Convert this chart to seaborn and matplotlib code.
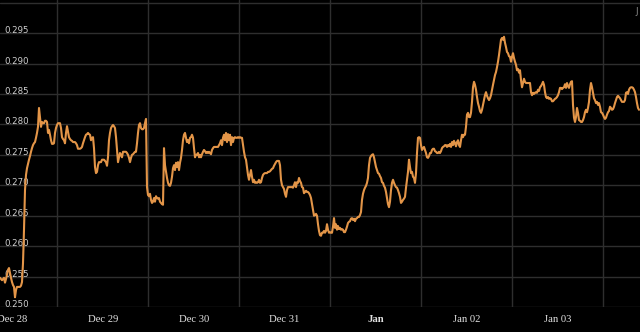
import matplotlib
matplotlib.use("Agg")
import matplotlib.pyplot as plt
import numpy as np
import pandas as pd
import seaborn as sns

# ---------------- data ----------------
start_time = "2023-12-28 08:50"
end_time = "2024-01-04 09:35"

values = [
    0.2548, 0.2546, 0.2544, 0.2546, 0.2548, 0.2540, 0.2546, 0.2553, 0.2561, 0.2564,
    0.2556, 0.2548, 0.2541, 0.2536, 0.2533, 0.2516, 0.2528, 0.2533, 0.2533, 0.2533,
    0.2533, 0.2535, 0.2541, 0.2572, 0.2627, 0.2692, 0.2717, 0.2728, 0.2735, 0.2742,
    0.2748, 0.2755, 0.2761, 0.2766, 0.2769, 0.2771, 0.2778, 0.2786, 0.2796, 0.2827,
    0.2812, 0.2796, 0.2804, 0.2802, 0.2802, 0.2806, 0.2806, 0.2804, 0.2786, 0.2791,
    0.2783, 0.2774, 0.2768, 0.2768, 0.2769, 0.2786, 0.2794, 0.2799, 0.2802, 0.2802,
    0.2802, 0.2794, 0.2779, 0.2776, 0.2774, 0.2769, 0.2786, 0.2797, 0.2788, 0.2779,
    0.2776, 0.2774, 0.2773, 0.2771, 0.2771, 0.2771, 0.2769, 0.2766, 0.2760, 0.2760,
    0.2760, 0.2761, 0.2763, 0.2769, 0.2774, 0.2779, 0.2783, 0.2784, 0.2786, 0.2784,
    0.2783, 0.2774, 0.2778, 0.2779, 0.2761, 0.2730, 0.2720, 0.2722, 0.2733, 0.2738,
    0.2738, 0.2738, 0.2742, 0.2742, 0.2742, 0.2740, 0.2738, 0.2732, 0.2746, 0.2774,
    0.2786, 0.2794, 0.2797, 0.2799, 0.2797, 0.2794, 0.2779, 0.2758, 0.2738, 0.2746,
    0.2753, 0.2750, 0.2746, 0.2755, 0.2755, 0.2755, 0.2755, 0.2753, 0.2750, 0.2745,
    # Dec 29 afternoon
    0.2738, 0.2745, 0.2750, 0.2751, 0.2753, 0.2755, 0.2755, 0.2769, 0.2786, 0.2799,
    0.2802, 0.2794, 0.2792, 0.2792, 0.2794, 0.2802, 0.2809, 0.2697, 0.2684, 0.2682,
    0.2686, 0.2676, 0.2671, 0.2673, 0.2679, 0.2673, 0.2682, 0.2679, 0.2678, 0.2679,
    0.2673, 0.2671, 0.2669, 0.2668, 0.2761, 0.2733, 0.2722, 0.2712, 0.2704, 0.2700,
    0.2699, 0.2704, 0.2714, 0.2728, 0.2733, 0.2725, 0.2737, 0.2730, 0.2738, 0.2725,
    0.2737, 0.2745, 0.2758, 0.2774, 0.2783, 0.2786, 0.2778, 0.2771, 0.2774, 0.2769,
    0.2778, 0.2779, 0.2783, 0.2778, 0.2761, 0.2746, 0.2750, 0.2750, 0.2753, 0.2746,
    0.2750, 0.2746, 0.2751, 0.2755, 0.2758, 0.2756, 0.2753, 0.2755, 0.2753, 0.2755,
    0.2753, 0.2751, 0.2758, 0.2761, 0.2763, 0.2763, 0.2763, 0.2763, 0.2763, 0.2766,
    0.2769, 0.2774, 0.2766, 0.2778, 0.2783, 0.2774, 0.2786, 0.2771, 0.2784, 0.2774,
    0.2783, 0.2766, 0.2779, 0.2771, 0.2778, 0.2779, 0.2778, 0.2778, 0.2779, 0.2778,
    0.2779, 0.2778, 0.2778, 0.2766, 0.2755, 0.2746, 0.2742, 0.2730, 0.2717, 0.2709,
    0.2717, 0.2725, 0.2714, 0.2705, 0.2709, 0.2704, 0.2705, 0.2704, 0.2705, 0.2709,
    # Dec 31
    0.2704, 0.2705, 0.2712, 0.2717, 0.2719, 0.2720, 0.2720, 0.2720, 0.2722, 0.2722,
    0.2723, 0.2725, 0.2727, 0.2728, 0.2732, 0.2735, 0.2738, 0.2740, 0.2740, 0.2740,
    0.2733, 0.2709, 0.2700, 0.2697, 0.2694, 0.2686, 0.2681, 0.2692, 0.2697, 0.2697,
    0.2697, 0.2697, 0.2697, 0.2696, 0.2700, 0.2705, 0.2697, 0.2705, 0.2704, 0.2712,
    0.2707, 0.2704, 0.2697, 0.2696, 0.2687, 0.2689, 0.2691, 0.2689, 0.2689, 0.2687,
    0.2684, 0.2679, 0.2669, 0.2659, 0.2650, 0.2651, 0.2653, 0.2650, 0.2636, 0.2625,
    0.2618, 0.2617, 0.2622, 0.2622, 0.2625, 0.2622, 0.2625, 0.2636, 0.2627, 0.2622,
    0.2623, 0.2622, 0.2622, 0.2632, 0.2646, 0.2630, 0.2636, 0.2627, 0.2633, 0.2628,
    0.2630, 0.2627, 0.2628, 0.2627, 0.2623, 0.2623, 0.2627, 0.2632, 0.2638, 0.2640,
    0.2641, 0.2645, 0.2646, 0.2643, 0.2645, 0.2641, 0.2645, 0.2646, 0.2648, 0.2648,
    0.2651, 0.2656, 0.2676, 0.2686, 0.2692, 0.2696, 0.2699, 0.2704, 0.2712, 0.2733,
    0.2745, 0.2748, 0.2750, 0.2751, 0.2746, 0.2738, 0.2730, 0.2725, 0.2720, 0.2719,
    0.2715, 0.2712, 0.2705, 0.2704, 0.2699, 0.2696, 0.2689, 0.2679, 0.2669, 0.2664,
    # Jan 01 afternoon
    0.2673, 0.2692, 0.2704, 0.2709, 0.2704, 0.2700, 0.2697, 0.2696, 0.2692, 0.2687,
    0.2681, 0.2671, 0.2673, 0.2676, 0.2678, 0.2681, 0.2696, 0.2709, 0.2722, 0.2742,
    0.2730, 0.2720, 0.2722, 0.2714, 0.2712, 0.2704, 0.2720, 0.2753, 0.2778, 0.2779,
    0.2778, 0.2766, 0.2758, 0.2761, 0.2763, 0.2758, 0.2753, 0.2746, 0.2745, 0.2748,
    0.2753, 0.2753, 0.2758, 0.2760, 0.2760, 0.2756, 0.2755, 0.2753, 0.2753, 0.2755,
    0.2753, 0.2756, 0.2761, 0.2763, 0.2764, 0.2766, 0.2766, 0.2763, 0.2766, 0.2764,
    0.2768, 0.2763, 0.2771, 0.2766, 0.2773, 0.2769, 0.2764, 0.2771, 0.2774, 0.2766,
    0.2763, 0.2774, 0.2783, 0.2779, 0.2783, 0.2783, 0.2796, 0.2816, 0.2819, 0.2812,
    0.2812, 0.2819, 0.2837, 0.2861, 0.2870, 0.2865, 0.2857, 0.2845, 0.2835, 0.2829,
    0.2822, 0.2819, 0.2824, 0.2832, 0.2840, 0.2848, 0.2853, 0.2847, 0.2843, 0.2840,
    0.2843, 0.2848, 0.2857, 0.2865, 0.2873, 0.2881, 0.2886, 0.2894, 0.2903, 0.2914,
    0.2927, 0.2939, 0.2942, 0.2939, 0.2944, 0.2934, 0.2927, 0.2919, 0.2917, 0.2912,
    0.2911, 0.2903, 0.2911, 0.2917, 0.2909, 0.2903, 0.2898, 0.2889, 0.2891, 0.2885,
    # Jan 03
    0.2889, 0.2873, 0.2861, 0.2868, 0.2875, 0.2870, 0.2868, 0.2868, 0.2868, 0.2868,
    0.2868, 0.2853, 0.2848, 0.2852, 0.2850, 0.2852, 0.2853, 0.2852, 0.2857, 0.2855,
    0.2861, 0.2863, 0.2866, 0.2870, 0.2865, 0.2853, 0.2845, 0.2843, 0.2845, 0.2842,
    0.2843, 0.2842, 0.2838, 0.2838, 0.2840, 0.2842, 0.2843, 0.2845, 0.2848, 0.2853,
    0.2860, 0.2860, 0.2858, 0.2860, 0.2861, 0.2866, 0.2860, 0.2868, 0.2863, 0.2860,
    0.2866, 0.2870, 0.2871, 0.2832, 0.2811, 0.2804, 0.2812, 0.2827, 0.2819, 0.2807,
    0.2806, 0.2804, 0.2804, 0.2807, 0.2812, 0.2820, 0.2824, 0.2820, 0.2827, 0.2837,
    0.2857, 0.2868, 0.2861, 0.2852, 0.2843, 0.2840, 0.2835, 0.2837, 0.2832, 0.2835,
    0.2829, 0.2820, 0.2819, 0.2816, 0.2812, 0.2809, 0.2811, 0.2816, 0.2820, 0.2822,
    0.2829, 0.2827, 0.2824, 0.2825, 0.2829, 0.2835, 0.2840, 0.2845, 0.2847, 0.2845,
    0.2843, 0.2840, 0.2837, 0.2837, 0.2837, 0.2840, 0.2852, 0.2853, 0.2850, 0.2857,
    0.2860, 0.2861, 0.2861, 0.2860, 0.2857, 0.2853, 0.2845, 0.2835, 0.2827, 0.2824,
]

y_ticks = [0.250, 0.255, 0.260, 0.265, 0.270, 0.275, 0.280, 0.285, 0.290, 0.295, 0.300]
y_tick_labels = ["0.250", "0.255", "0.260", "0.265", "0.270", "0.275",
                 "0.280", "0.285", "0.290", "0.295", ""]
day_boundaries = ["2023-12-29", "2023-12-30", "2023-12-31", "2024-01-01",
                  "2024-01-02", "2024-01-03", "2024-01-04"]
x_label_times = ["2023-12-28 12:00", "2023-12-29 12:00", "2023-12-30 12:00",
                 "2023-12-31 12:00", "2024-01-01 12:00", "2024-01-02 12:00",
                 "2024-01-03 12:00"]
x_tick_labels = ["Dec 28", "Dec 29", "Dec 30", "Dec 31", "Jan", "Jan 02", "Jan 03"]

# ---------------- styling ----------------
sns.set_style("dark", {"axes.facecolor": "black", "figure.facecolor": "black"})
plt.rcParams["font.family"] = ["DejaVu Sans"]

LINE = "#e39548"
GRID = "#2e2e2e"

fig = plt.figure(figsize=(6.4, 3.32), dpi=100, facecolor="black")
ax = fig.add_axes([0, 25 / 332, 1, 307 / 332])
ax.set_facecolor("black")

times = pd.date_range(start_time, end_time, periods=len(values))
df = pd.DataFrame({"time": times, "value": values})
sns.lineplot(data=df, x="time", y="value", ax=ax, color=LINE, linewidth=1.5)

step = times[1] - times[0]
ax.set_xlim(times[0], times[-1] + step)
ax.set_ylim(0.2500, 0.30044)

# x axis: gridlines at midnight, labels centred on each day
ax.set_xticks(pd.to_datetime(day_boundaries))
ax.set_xticklabels([""] * len(day_boundaries))
ax.set_xticks(pd.to_datetime(x_label_times), minor=True)
ax.set_xticklabels(x_tick_labels, minor=True)
ax.tick_params(axis="x", which="both", length=0)
ax.tick_params(axis="x", which="minor", pad=6, labelsize=7.7, labelcolor="#e2e2e2")
for lbl in ax.get_xticklabels(minor=True):
    lbl.set_fontfamily(["Liberation Serif"])
    if lbl.get_text() == "Jan":
        lbl.set_fontweight("bold")

# y axis: labels inside plot, sitting on gridlines
ax.set_yticks(y_ticks)
ax.set_yticklabels(y_tick_labels)
ax.tick_params(axis="y", length=0, pad=-3, labelsize=6.2, labelcolor="#cfcfcf")
for lbl in ax.get_yticklabels():
    lbl.set_horizontalalignment("left")
    lbl.set_verticalalignment("baseline")

ax.grid(True, which="major", color=GRID, linewidth=1.0)
ax.grid(False, which="minor")
ax.set_axisbelow(True)
for s in ax.spines.values():
    s.set_visible(False)
ax.set_xlabel("")
ax.set_ylabel("")

fig.text(635 / 640, 1 - 12 / 332, "J", color="#8a8a8a", fontsize=6.5,
         ha="left", va="center")

fig.savefig("out.png", dpi=100, facecolor="black")
